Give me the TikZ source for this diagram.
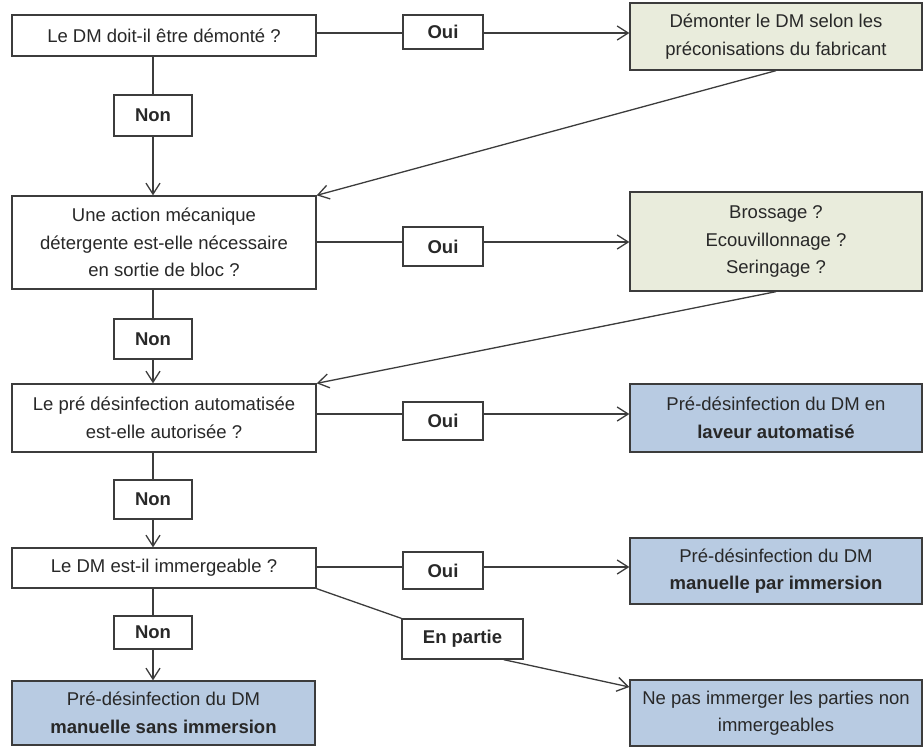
\documentclass[tikz,border=0pt]{standalone}
\usepackage{fontspec}
\setmainfont{Liberation Sans}
\usetikzlibrary{arrows.meta}
\definecolor{greenfill}{RGB}{233,236,220}
\definecolor{bluefill}{RGB}{184,203,226}
\definecolor{linec}{RGB}{60,60,60}
\definecolor{txtc}{RGB}{40,40,40}
\begin{document}
\begin{tikzpicture}[x=1pt,y=-1pt,
 box/.style={draw=linec, line width=1.3pt, text=txtc, align=center, inner sep=0pt,
   font=\fontsize{18.5}{27.5}\selectfont},
 qbox/.style={box, fill=white, minimum width=304pt},
 lbl/.style={box, fill=white, font=\fontsize{18.5}{22}\selectfont\bfseries},
 gbox/.style={box, fill=greenfill, minimum width=292pt},
 bbox/.style={box, fill=bluefill, minimum width=292pt},
 conn/.style={draw=linec, line width=1.3pt},
 arr/.style={conn, -{Straight Barb[length=11pt,width=14pt,line width=1.3pt]}}
]
\useasboundingbox (0,0) rectangle (924,747);

% questions (left column)
\node[qbox, minimum height=41pt] (q1) at (164,35.5) {Le DM doit-il être démonté ?};
\node[qbox, minimum height=93pt] (q2) at (164,242.5) {Une action mécanique\\détergente est-elle nécessaire\\en sortie de bloc ?};
\node[qbox, minimum height=68pt] (q3) at (164,418) {Le pré désinfection automatisée\\est-elle autorisée ?};
\node[qbox, minimum height=40pt] (q4) at (164,568) {Le DM est-il immergeable ?};
\node[bbox, minimum width=303pt, minimum height=64pt] (s5) at (163.5,713) {Pré-désinfection du DM\\\textbf{manuelle sans immersion}};

% Non labels
\node[lbl, minimum width=78pt, minimum height=41pt] (non1) at (153,115.5) {Non};
\node[lbl, minimum width=78pt, minimum height=40pt] (non2) at (153,339) {Non};
\node[lbl, minimum width=78pt, minimum height=39pt] (non3) at (153,499.5) {Non};
\node[lbl, minimum width=78pt, minimum height=33pt] (non4) at (153,632.5) {Non};

% Oui labels
\node[lbl, minimum width=80pt, minimum height=34pt] (oui1) at (443,32) {Oui};
\node[lbl, minimum width=80pt, minimum height=39pt] (oui2) at (443,246.5) {Oui};
\node[lbl, minimum width=80pt, minimum height=38pt] (oui3) at (443,421) {Oui};
\node[lbl, minimum width=80pt, minimum height=37pt] (oui4) at (443,570.5) {Oui};
\node[lbl, minimum width=121pt, minimum height=40pt] (part) at (462.5,639) {En partie};

% right column
\node[gbox, minimum height=67pt] (r1) at (776,36.5) {Démonter le DM selon les\\préconisations du fabricant};
\node[gbox, minimum height=99pt] (r2) at (776,241.5) {Brossage ?\\Ecouvillonnage ?\\Seringage ?};
\node[bbox, minimum height=68pt] (r3) at (776,418) {Pré-désinfection du DM en\\\textbf{laveur automatisé}};
\node[bbox, minimum height=66pt] (r4) at (776,571) {Pré-désinfection du DM\\\textbf{manuelle par immersion}};
\node[bbox, minimum height=66pt] (r5) at (776,713) {Ne pas immerger les parties non\\immergeables};

% vertical Non connectors
\draw[conn] (q1.south -| non1.north) -- (non1.north);
\draw[arr] (non1.south) -- (non1.south |- q2.north);
\draw[conn] (q2.south -| non2.north) -- (non2.north);
\draw[arr] (non2.south) -- (non2.south |- q3.north);
\draw[conn] (q3.south -| non3.north) -- (non3.north);
\draw[arr] (non3.south) -- (non3.south |- q4.north);
\draw[conn] (q4.south -| non4.north) -- (non4.north);
\draw[arr] (non4.south) -- (non4.south |- s5.north);

% horizontal Oui connectors
\coordinate (h1) at (0,33);
\coordinate (h2) at (0,242);
\coordinate (h3) at (0,414);
\coordinate (h4) at (0,567);
\draw[conn] (q1.east |- h1) -- (oui1.west |- h1);
\draw[arr] (oui1.east |- h1) -- (r1.west |- h1);
\draw[conn] (q2.east |- h2) -- (oui2.west |- h2);
\draw[arr] (oui2.east |- h2) -- (r2.west |- h2);
\draw[conn] (q3.east |- h3) -- (oui3.west |- h3);
\draw[arr] (oui3.east |- h3) -- (r3.west |- h3);
\draw[conn] (q4.east |- h4) -- (oui4.west |- h4);
\draw[arr] (oui4.east |- h4) -- (r4.west |- h4);

% return diagonals
\draw[arr] (r1.south) -- (q2.north east);
\draw[arr] (r2.south) -- (q3.north east);

% En partie
\draw[conn] (q4.south east) -- (part.north west);
\draw[arr] ([xshift=-20pt]part.south east) -- ([yshift=26pt]r5.west);
\end{tikzpicture}
\end{document}
